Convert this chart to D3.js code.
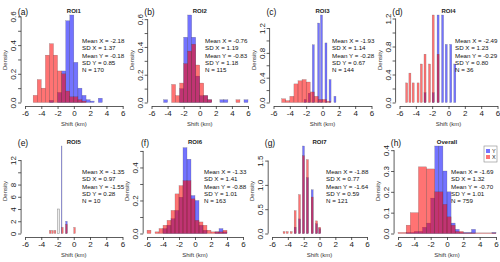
<!DOCTYPE html>
<html>
<head>
<meta charset="utf-8">
<script src="https://cdn.jsdelivr.net/npm/d3@7"></script>
<style>
  body { margin: 0; background: #fff; }
  svg { display: block; font-family: "Liberation Sans", Arial, sans-serif; }
</style>
</head>
<body>
<svg id="chart" width="500" height="262"></svg>
<script>
// ---- data: every bin is [from, to, density] ----
const panelTags = ["(a)", "(b)", "(c)", "(d)", "(e)", "(f)", "(g)", "(h)"];
const panelTitles = ["ROI1", "ROI2", "ROI3", "ROI4", "ROI5", "ROI6", "ROI7", "Overall"];
const meanX = ["-2.18", "-0.76", "-1.93", "-2.49", "-1.35", "-1.33", "-1.88", "-1.69"];
const sdX = ["1.37", "1.19", "1.14", "1.23", "0.97", "1.41", "0.77", "1.32"];
const meanY = ["-0.18", "-0.83", "-0.28", "-0.29", "-1.55", "-0.88", "-1.64", "-0.70"];
const sdY = ["0.85", "1.18", "0.67", "0.80", "0.28", "1.01", "0.59", "1.01"];
const nObs = [170, 115, 144, 36, 10, 163, 121, 759];
const xTicks = [-6, -4, -2, 0, 2, 4, 6];

const yMax = [0.61, 0.63, 1.41, 1.25, 14.3, 0.53, 1.8, 0.42];
const yTicks = [
  [0, 0.1, 0.2, 0.3, 0.4, 0.5, 0.6],
  [0, 0.1, 0.2, 0.3, 0.4, 0.5, 0.6],
  [0, 0.2, 0.4, 0.6, 0.8, 1.0, 1.2],
  [0, 0.2, 0.4, 0.6, 0.8, 1.0, 1.2],
  [0, 2, 4, 6, 8, 10, 12],
  [0, 0.1, 0.2, 0.3, 0.4, 0.5],
  [0, 0.5, 1.0, 1.5],
  [0, 0.1, 0.2, 0.3, 0.4]
];
const yLabels = [
  ["0.0", "", "0.2", "", "0.4", "", "0.6"],
  ["0.0", "", "0.2", "", "0.4", "", "0.6"],
  ["0.0", "", "0.4", "", "0.8", "", "1.2"],
  ["0.0", "", "0.4", "", "0.8", "", "1.2"],
  ["0", "2", "4", "6", "8", "", "12"],
  ["0.0", "", "0.2", "", "0.4", ""],
  ["0.0", "0.5", "1.0", "1.5"],
  ["0.0", "0.1", "0.2", "0.3", "0.4"]
];

const roi1X = [[-5,-4.5,0.05],[-4.5,-4,0.16],[-4,-3.5,0.1],[-3.5,-3,0.33],[-3,-2.5,0.41],[-2.5,-2,0.33],
  [-2,-1.5,0.22],[-1.5,-1,0.2],[-1,-0.5,0.08],[-0.5,0,0.04],[0,0.5,0.04],[0.5,1,0.02],[1,1.5,0.01]];
const roi1Y = [[-3,-2.5,0.015],[-2,-1.5,0.07],[-1.5,-1,0.22],[-1,-0.5,0.57],[-0.5,0,0.61],[0,0.5,0.28],
  [0.5,1,0.1],[1,1.5,0.05],[1.5,2,0.02],[2,2.5,0.01],[3,3.5,0.03]];

const roi2X = [[-3.5,-3,0.13],[-3,-2.5,0.05],[-2.5,-2,0.14],[-2,-1.5,0.28],[-1.5,-1,0.37],[-1,-0.5,0.42],
  [-0.5,0,0.27],[0,0.5,0.14],[0.5,1,0.05],[1,1.5,0.02],[4.5,5,0.02]];
const roi2Y = [[-4.5,-4,0.02],[-2.5,-2,0.1],[-2,-1.5,0.47],[-1.5,-1,0.63],[-1,-0.5,0.47],[-0.5,0,0.19],
  [0,0.5,0.05],[0.5,1,0.05],[1,1.5,0.02],[2.5,3,0.02],[3,3.5,0.02],[5.5,6,0.02]];

const roi3X = [[-5,-4.5,0.06],[-4.5,-4,0.03],[-4,-3.5,0.1],[-3.5,-3,0.3],[-3,-2.5,0.35],[-2.5,-2,0.37],
  [-2,-1.5,0.33],[-1.5,-1,0.17],[-1,-0.5,0.1],[-0.5,0,0.05],[0,0.5,0.05],[0.5,1,0.02]];
const roi3Y = [[-2.25,-2,0.05],[-1.75,-1.5,0.15],[-1.25,-1,0.93],[-0.6,-0.35,1.28],[-0.25,0,1.41],
  [0.3,0.55,0.96],[0.8,1.05,0.37],[1.4,1.65,0.1]];

const roi4X = [[-5.25,-5,0.28],[-4.85,-4.6,0.42],[-4.45,-4.2,0.28],[-3.85,-3.6,0.28],[-3.45,-3.2,0.55],
  [-3,-2.75,0.69],[-2.45,-2.2,0.55],[-2,-1.75,1.25],[-1.4,-1.15,0.69]];
const roi4Y = [[-3,-2.75,0.14],[-2,-1.75,0.14],[-1.4,-1.15,1.25],[-0.85,-0.6,1.25],[-0.4,-0.15,0.83],
  [0.15,0.4,0.83],[0.65,0.9,0.55]];

const roi5X = [[-3,-2.8,0.5],[-2.7,-2.5,0.5],[-2.4,-2.2,0.5],[-1.5,-1.3,1.0],[-1,-0.8,1.5],[0,0.2,1.0]];
const roi5Y = [[-1.52,-1.48,14.3],[-1,-0.8,2.0]];
const roi5Outline = [[-2,-1.75,4.0]];

const roi6X = [[-6,-5.5,0.02],[-5,-4.5,0.01],[-4.5,-4,0.03],[-4,-3.5,0.05],[-3.5,-3,0.08],[-3,-2.5,0.14],
  [-2.5,-2,0.24],[-2,-1.5,0.29],[-1.5,-1,0.32],[-1,-0.5,0.32],[-0.5,0,0.21],[0,0.5,0.08],[0.5,1,0.07],
  [1,1.5,0.05],[1.5,2,0.02],[2,2.5,0.01],[2.5,3,0.01],[3,3.5,0.01],[3.5,4,0.02]];
const roi6Y = [[-4,-3.5,0.03],[-3.5,-3,0.05],[-3,-2.5,0.09],[-2.5,-2,0.14],[-2,-1.5,0.22],[-1.5,-1,0.52],
  [-1,-0.5,0.45],[-0.5,0,0.23],[0,0.5,0.2],[0.5,1,0.05],[1,1.5,0.02],[2.5,3,0.01],[3,3.5,0.03],[3.5,4,0.01]];

const roi7X = [[-4.6,-4.35,0.04],[-4.2,-3.95,0.04],[-3.7,-3.45,0.04],[-3.2,-2.95,0.47],[-2.65,-2.4,0.8],
  [-2.15,-1.9,1.6],[-1.65,-1.4,1.52],[-1.05,-0.8,0.75],[-0.5,-0.25,0.26],[-0.1,0.15,0.13]];
const roi7Y = [[-3.2,-2.95,0.13],[-2.65,-2.4,0.3],[-2.15,-1.9,1.8],[-1.65,-1.4,1.15],[-1.05,-0.8,0.9],
  [-0.5,-0.25,0.2],[-0.1,0.15,0.1]];

const allX = [[-6,-5,0.005],[-5,-4.5,0.04],[-4.5,-3.5,0.1],[-3.5,-2.5,0.32],[-2.5,-1.5,0.31],
  [-1.5,-0.5,0.2],[-0.5,0,0.14],[0,0.5,0.08],[0.5,1,0.04],[1,2,0.01],[2,6,0.003]];
const allY = [[-5,-4,0.005],[-4,-3,0.01],[-3,-2.5,0.03],[-2.5,-2,0.05],[-2,-1.5,0.17],[-1.5,-1,0.42],
  [-1,-0.5,0.42],[-0.5,0,0.3],[0,0.5,0.2],[0.5,1,0.05],[1,1.5,0.02],[1.5,3,0.005],[3,3.5,0.02],[5.5,6,0.005]];

const seriesX = [roi1X, roi2X, roi3X, roi4X, roi5X, roi6X, roi7X, allX];
const seriesY = [roi1Y, roi2Y, roi3Y, roi4Y, roi5Y, roi6Y, roi7Y, allY];

// ---- layout: pixel spots of x=-6 and x=6 for each panel, and row offset ----
const layout = [
  {left: 25, right: 122.7, top: 0, statX: 82},
  {left: 151.5, right: 248, top: 0, statX: 205},
  {left: 273.5, right: 371.5, top: 0, statX: 332},
  {left: 399.5, right: 497.5, top: 0, statX: 455},
  {left: 25, right: 122.5, top: 131, statX: 82},
  {left: 147, right: 243, top: 131, statX: 204},
  {left: 272, right: 367, top: 131, statX: 326},
  {left: 398, right: 496, top: 131, statX: 451}
];

const red = "rgba(255,0,0,0.55)";
const blue = "rgba(0,0,255,0.55)";
const svg = d3.select("#chart");

function drawBars(g, bins, x, y, fill) {
  g.append("g").selectAll("rect").data(bins).join("rect")
    .attr("x", d => x(d[0]))
    .attr("width", d => Math.max(0.6, x(d[1]) - x(d[0])))
    .attr("y", d => y(d[2]))
    .attr("height", d => y(0) - y(d[2]))
    .attr("fill", fill)
    .attr("stroke", "rgba(70,70,70,0.55)")
    .attr("stroke-width", 0.35);
}

function drawPanel(i) {
  const L = layout[i];
  const g = svg.append("g").attr("transform", `translate(0,${L.top})`);
  const x = d3.scaleLinear().domain([-6, 6]).range([L.left, L.right]);
  const y = d3.scaleLinear().domain([0, yMax[i]]).range([102.5, 15]);
  const axisX = x(-6.48);
  const axisY = 106;

  // blue (Y) first, red (X) laid over it
  drawBars(g, seriesY[i], x, y, blue);
  if (i === 4) {
    g.append("g").selectAll("rect").data(roi5Outline).join("rect")
      .attr("x", d => x(d[0])).attr("width", d => x(d[1]) - x(d[0]))
      .attr("y", d => y(d[2])).attr("height", d => y(0) - y(d[2]))
      .attr("fill", "rgba(200,200,200,0.3)").attr("stroke", "#999").attr("stroke-width", 0.6);
  }
  drawBars(g, seriesX[i], x, y, red);

  // x axis
  const xa = g.append("g").attr("transform", `translate(0,${axisY})`)
    .call(d3.axisBottom(x).tickValues(xTicks).tickSize(3).tickSizeOuter(0).tickPadding(1.5)
      .tickFormat(d => String(d)));
  xa.select(".domain").attr("stroke", "#333").attr("stroke-width", 0.8);
  xa.selectAll(".tick line").attr("stroke", "#333").attr("stroke-width", 0.8);
  xa.selectAll("text").attr("font-size", 8).attr("fill", "#222").attr("font-family", null);

  // y axis, line only from 0 to the last tick
  const ticks = yTicks[i];
  const ya = g.append("g").attr("transform", `translate(${axisX},0)`)
    .call(d3.axisLeft(y).tickValues(ticks).tickSize(3).tickFormat((d, k) => yLabels[i][k]));
  ya.select(".domain").remove();
  ya.append("line").attr("y1", y(0)).attr("y2", y(ticks[ticks.length - 1]))
    .attr("stroke", "#333").attr("stroke-width", 0.8);
  ya.selectAll(".tick line").attr("stroke", "#333").attr("stroke-width", 0.8);
  ya.selectAll("text")
    .attr("font-size", 8).attr("fill", "#222").attr("font-family", null)
    .attr("x", 0).attr("dy", 0).attr("text-anchor", "middle")
    .attr("transform", "translate(-5,0) rotate(-90)");

  // labels
  g.append("text").attr("x", L.left - 2).attr("y", 15).attr("text-anchor", "middle")
    .attr("font-size", 8.5).attr("fill", "#111").text(panelTags[i]);
  g.append("text").attr("x", x(0)).attr("y", 13).attr("text-anchor", "middle")
    .attr("font-size", 6).attr("font-weight", "bold").attr("fill", "#222").text(panelTitles[i]);
  g.append("text").attr("transform", `translate(${L.left - 18},60) rotate(-90)`)
    .attr("text-anchor", "middle").attr("font-size", 6).attr("fill", "#333").text("Density");
  g.append("text").attr("x", x(0)).attr("y", 126).attr("text-anchor", "middle")
    .attr("font-size", 6).attr("fill", "#333").text("Shift  (km)");

  const lines = [
    [`Mean X = ${meanX[i]}`, 43],
    [`SD X = ${sdX[i]}`, 50],
    [`Mean Y = ${meanY[i]}`, 58],
    [`SD Y = ${sdY[i]}`, 65],
    [`N = ${nObs[i]}`, 72]
  ];
  g.append("g").selectAll("text").data(lines).join("text")
    .attr("x", L.statX).attr("y", d => d[1])
    .attr("font-size", 6.2).attr("fill", "#111")
    .text(d => d[0]);
}

d3.range(8).forEach(drawPanel);

// legend for the Overall panel
const legend = svg.append("g").attr("transform", "translate(484,146)");
legend.append("rect").attr("width", 13).attr("height", 16).attr("fill", "none")
  .attr("stroke", "#888").attr("stroke-width", 0.6);
const legendKeys = [["Y", blue], ["X", red]];
legend.selectAll("g.key").data(legendKeys).join("g").attr("class", "key")
  .attr("transform", (d, k) => `translate(2,${3 + k * 6})`)
  .each(function(d) {
    const s = d3.select(this);
    s.append("rect").attr("width", 4).attr("height", 4).attr("fill", d[1]);
    s.append("text").attr("x", 6).attr("y", 4).attr("font-size", 5.5).attr("fill", "#222").text(d[0]);
  });
</script>
</body>
</html>
